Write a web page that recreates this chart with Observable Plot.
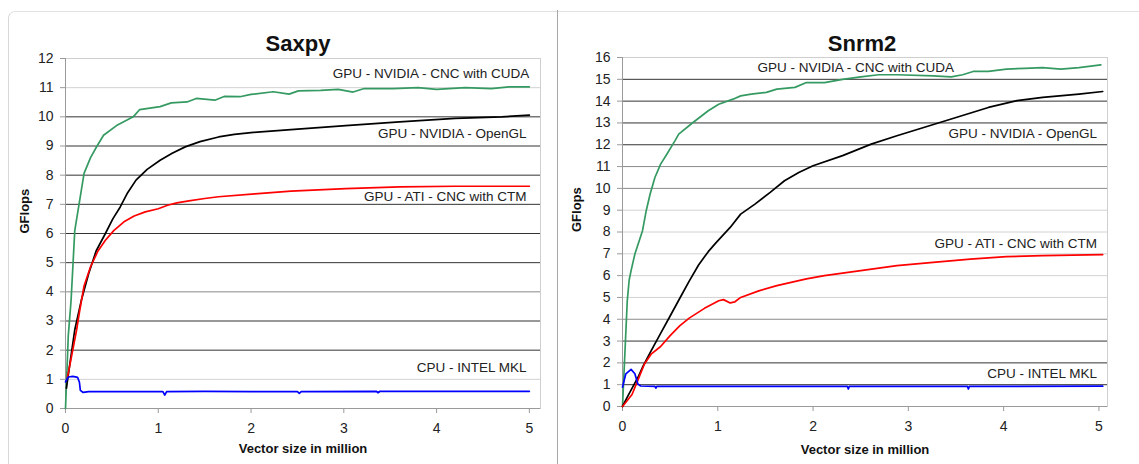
<!DOCTYPE html>
<html>
<head>
<meta charset="utf-8">
<script src="https://cdn.jsdelivr.net/npm/d3@7"></script>
<script src="https://cdn.jsdelivr.net/npm/@observablehq/plot@0.6"></script>
<style>
  html, body { margin: 0; padding: 0; background: #fff; }
  body { width: 1139px; height: 464px; position: relative; overflow: hidden;
         font-family: "Liberation Sans", Arial, sans-serif; }
  .frame-left { position: absolute; left: 8px; top: 11px; width: 549px; height: 460px;
                border-top: 1px solid #e2e2e2; border-left: 1px solid #d8d8d8;
                border-top-left-radius: 7px; box-sizing: border-box; }
  .frame-right { position: absolute; left: 558px; top: 11px; width: 581px; height: 0;
                 border-top: 1px solid #e2e2e2; }
  .divider { position: absolute; left: 557px; top: 10px; width: 0; height: 454px;
             border-left: 1px solid #a8a8a8; }
  .chart { position: absolute; top: 0; }
  #left { left: 0; }
  #right { left: 558px; }
</style>
</head>
<body>
<div class="frame-left"></div>
<div class="frame-right"></div>
<div class="divider"></div>
<div id="left" class="chart"></div>
<div id="right" class="chart"></div>
<script>
// ---------- DATA ----------
const xTicks = [0, 1, 2, 3, 4, 5];
const saxpyYTicks = [0,1,2,3,4,5,6,7,8,9,10,11,12];
const snrm2YTicks = [0,1,2,3,4,5,6,7,8,9,10,11,12,13,14,15,16];
const seriesNames = ["GPU - NVIDIA - CNC with CUDA", "GPU - NVIDIA - OpenGL", "GPU - ATI - CNC with CTM", "CPU - INTEL MKL"];

// Saxpy  [vector size (million), GFlops]
const saxpyCuda = [[0,0],[0.03,2.5],[0.06,3.7],[0.1,6.1],[0.2,8.06],[0.27,8.6],[0.34,9.0],[0.41,9.37],[0.55,9.7],[0.73,10.0],[0.8,10.25],[1.02,10.35],[1.14,10.48],[1.31,10.51],[1.41,10.63],[1.61,10.57],[1.71,10.7],[1.88,10.69],[2.0,10.77],[2.24,10.86],[2.41,10.78],[2.51,10.89],[2.75,10.91],[2.94,10.94],[3.1,10.85],[3.22,10.97],[3.53,10.97],[3.8,11.0],[4.0,10.94],[4.31,11.0],[4.59,10.97],[4.78,11.03],[5.0,11.03]];
const saxpyOpenGL = [[0.01,0.7],[0.05,1.6],[0.1,2.7],[0.17,3.7],[0.25,4.63],[0.33,5.4],[0.43,6.0],[0.51,6.5],[0.59,6.91],[0.67,7.4],[0.76,7.83],[0.88,8.2],[1.02,8.51],[1.15,8.75],[1.29,8.97],[1.45,9.15],[1.65,9.31],[1.82,9.4],[2.0,9.46],[2.43,9.56],[3.02,9.7],[3.6,9.83],[4.2,9.95],[4.7,10.0],[5.0,10.06]];
const saxpyCTM = [[0.02,1.05],[0.06,1.7],[0.12,2.7],[0.15,3.3],[0.2,4.2],[0.27,4.86],[0.35,5.4],[0.43,5.77],[0.52,6.1],[0.63,6.4],[0.74,6.6],[0.86,6.74],[1.0,6.85],[1.1,6.97],[1.2,7.05],[1.33,7.12],[1.5,7.2],[1.65,7.26],[2.04,7.36],[2.43,7.45],[3.02,7.54],[3.6,7.6],[4.2,7.62],[5.0,7.62]];
const saxpyMKL = [[0,0.91],[0.03,1.08],[0.08,1.1],[0.13,1.07],[0.15,0.9],[0.16,0.62],[0.19,0.55],[0.25,0.58],[0.5,0.58],[1.05,0.58],[1.07,0.46],[1.09,0.58],[1.5,0.59],[2.0,0.58],[2.5,0.58],[2.52,0.52],[2.54,0.58],[3.35,0.59],[3.37,0.54],[3.39,0.59],[4.0,0.59],[5.0,0.59]];

// Snrm2
const snrm2Cuda = [[0,0],[0.02,1.95],[0.05,4.85],[0.07,5.8],[0.09,6.23],[0.13,6.99],[0.21,8.06],[0.25,9.0],[0.29,9.74],[0.34,10.5],[0.4,11.11],[0.47,11.6],[0.55,12.18],[0.59,12.49],[0.74,13.02],[0.9,13.56],[1.01,13.86],[1.16,14.09],[1.24,14.24],[1.35,14.32],[1.51,14.4],[1.62,14.55],[1.81,14.63],[1.93,14.85],[2.12,14.85],[2.31,15.0],[2.5,15.11],[2.69,15.21],[2.88,15.21],[3.26,15.16],[3.45,15.11],[3.57,15.21],[3.68,15.36],[3.84,15.36],[4.03,15.47],[4.22,15.5],[4.41,15.54],[4.6,15.47],[4.79,15.54],[5.02,15.66]];
const snrm2OpenGL = [[0,0],[0.05,0.43],[0.17,1.4],[0.21,1.8],[0.3,2.55],[0.4,3.35],[0.5,4.15],[0.6,4.95],[0.7,5.75],[0.8,6.5],[0.9,7.1],[0.98,7.5],[1.13,8.21],[1.24,8.82],[1.39,9.28],[1.55,9.82],[1.7,10.35],[1.85,10.73],[2.0,11.04],[2.31,11.5],[2.61,12.03],[2.88,12.41],[3.11,12.72],[3.45,13.18],[3.84,13.71],[4.14,14.02],[4.41,14.17],[4.79,14.32],[5.04,14.44]];
const snrm2CTM = [[0,0],[0.1,0.55],[0.17,1.3],[0.23,1.95],[0.3,2.4],[0.4,2.75],[0.5,3.25],[0.6,3.7],[0.7,4.05],[0.86,4.5],[1.01,4.85],[1.06,4.9],[1.13,4.75],[1.18,4.8],[1.24,5.0],[1.43,5.3],[1.62,5.54],[1.93,5.85],[2.12,6.0],[2.5,6.23],[2.88,6.46],[3.26,6.61],[3.65,6.76],[4.03,6.87],[4.41,6.92],[5.04,6.96]];
const snrm2MKL = [[0,0.89],[0.035,1.5],[0.09,1.7],[0.13,1.5],[0.16,1.04],[0.19,0.94],[0.34,0.92],[0.35,0.84],[0.36,0.92],[1.0,0.92],[2.36,0.92],[2.37,0.8],[2.38,0.92],[3.62,0.92],[3.63,0.8],[3.64,0.92],[5.04,0.93]];

// label anchor points (data coordinates, text ends here)
const saxpyLabelX = [5.0, 4.97, 4.97, 4.97];
const saxpyLabelY = [11.48, 9.43, 7.27, 1.41];
const snrm2LabelX = [3.48, 4.98, 4.98, 4.98];
const snrm2LabelY = [15.54, 12.49, 7.48, 1.5];

// ---------- STYLE ----------
const seriesColors = ["#359a62", "#000000", "#ff0000", "#0000ff"];
const gridDark = "#333", gridMid = "#8a8a8a", gridLight = "#d2d2d2";

function makeChart(cfg) {
  const series = [cfg.cuda, cfg.gl, cfg.ctm, cfg.mkl];
  const labels = seriesNames.map((t, i) => ({text: t, x: cfg.labelX[i], y: cfg.labelY[i]}));
  const tone = v => cfg.light.includes(v) ? gridLight : cfg.mid.includes(v) ? gridMid : gridDark;
  const gridTicks = cfg.yTicks.filter(v => v > 0 && v < cfg.yTicks[cfg.yTicks.length - 1]);
  return Plot.plot({
    width: cfg.width, height: 464,
    marginLeft: cfg.ml, marginRight: cfg.mr, marginTop: cfg.mt, marginBottom: cfg.mb,
    style: {fontFamily: "'Liberation Sans', Arial, sans-serif", background: "transparent", color: "#222"},
    color: {type: "identity"},
    x: {domain: [0, cfg.xMax], label: null},
    y: {domain: [0, cfg.yTicks[cfg.yTicks.length - 1]], label: null},
    marks: [
      Plot.frame({stroke: "#cfcfcf"}),
      Plot.ruleY(gridTicks, {y: d => d, stroke: d => tone(d), strokeWidth: 1}),
      Plot.ruleX([0], {stroke: "#9a9a9a"}),
      Plot.ruleY([0], {stroke: "#9a9a9a"}),
      Plot.axisY({ticks: cfg.yTicks, tickFormat: d3.format("d"), tickSize: 5, tickPadding: 7, fontSize: 14, stroke: "#9a9a9a", fill: "#222", label: null}),
      Plot.axisX({ticks: xTicks, tickFormat: d3.format("d"), tickSize: 5, tickPadding: 10, fontSize: 14, stroke: "#9a9a9a", fill: "#222", label: null}),
      ...series.map((s, i) => Plot.line(s, {x: d => d[0], y: d => d[1], stroke: seriesColors[i], strokeWidth: 1.7})),
      Plot.text(labels, {x: "x", y: "y", text: "text", textAnchor: "end", fontSize: 13.5, fill: "#222"}),
      Plot.text([cfg.title], {text: d => d, frameAnchor: "top", dx: cfg.titleDx, dy: cfg.titleDy, fontSize: 22, fontWeight: "bold", fill: "#111"}),
      Plot.text(["GFlops"], {text: d => d, frameAnchor: "left", dx: cfg.yLabelDx, rotate: -90, fontSize: 13, fontWeight: "bold", fill: "#111"}),
      Plot.text(["Vector size in million"], {text: d => d, frameAnchor: "bottom", dy: cfg.xLabelDy, fontSize: 13, fontWeight: "bold", fill: "#111"})
    ]
  });
}

document.getElementById("left").appendChild(makeChart({
  title: "Saxpy", width: 557, ml: 65, mr: 17, mt: 58, mb: 56, xMax: 5.12,
  yTicks: saxpyYTicks, cuda: saxpyCuda, gl: saxpyOpenGL, ctm: saxpyCTM, mkl: saxpyMKL,
  labelX: saxpyLabelX, labelY: saxpyLabelY,
  light: [1, 11], mid: [4],
  titleDx: -5, titleDy: -23, yLabelDx: -41, xLabelDy: 44
}));

document.getElementById("right").appendChild(makeChart({
  title: "Snrm2", width: 581, ml: 64, mr: 32, mt: 57, mb: 58, xMax: 5.09,
  yTicks: snrm2YTicks, cuda: snrm2Cuda, gl: snrm2OpenGL, ctm: snrm2CTM, mkl: snrm2MKL,
  labelX: snrm2LabelX, labelY: snrm2LabelY,
  light: [5, 6, 7, 8, 9], mid: [4, 10, 11],
  titleDx: -3, titleDy: -22, yLabelDx: -46, xLabelDy: 47
}));
</script>
</body>
</html>
